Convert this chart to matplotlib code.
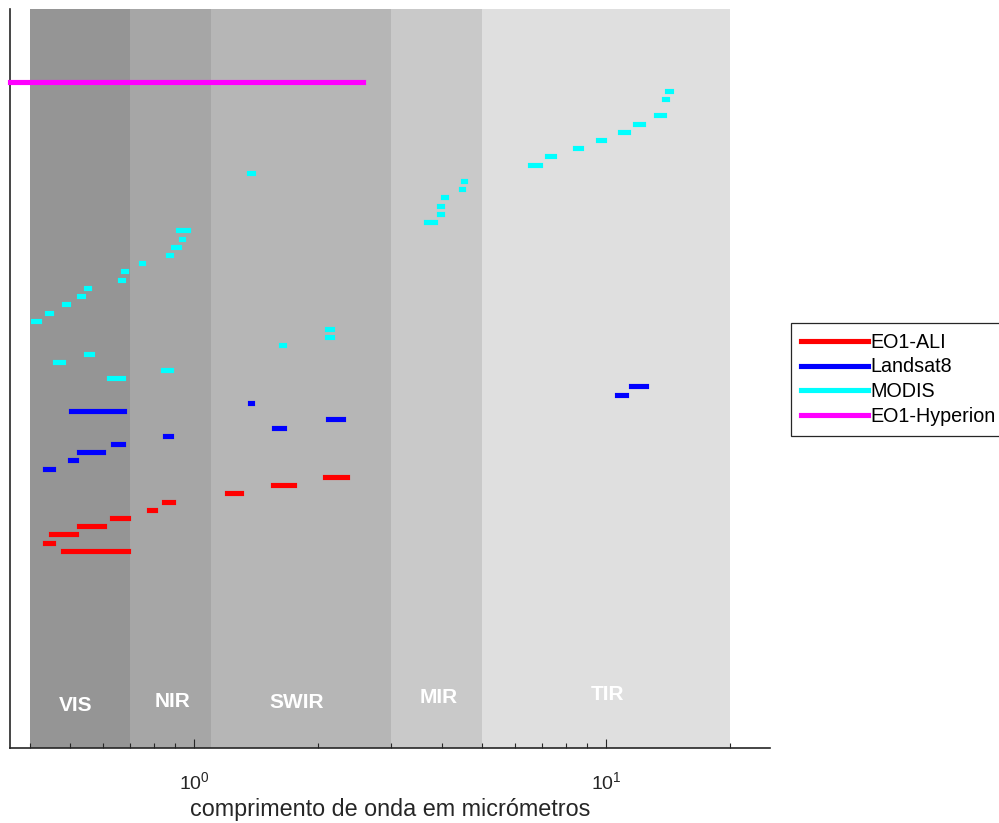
import numpy as np
import matplotlib
matplotlib.use("Agg")
import matplotlib.pyplot as plt
from matplotlib.ticker import LogLocator, FuncFormatter, NullFormatter

plt.rcParams['font.family'] = ['Liberation Sans', 'DejaVu Sans']

# spectral regions (micrometres) and their labels
region_edges = [0.4, 0.7, 1.1, 3.0, 5.0, 20.0]
region_names = ['VIS', 'NIR', 'SWIR', 'MIR', 'TIR']
region_colors = ['#959595', '#a6a6a6', '#b6b6b6', '#c9c9c9', '#dfdfdf']
label_x = [0.515, 0.885, 1.77, 3.93, 10.07]
label_y = [5.2, 5.6, 5.5, 6.1, 6.5]

# EO1-ALI bands (Pan, MS-1', MS-1, MS-2, MS-3, MS-4, MS-4', MS-5', MS-5, MS-7)
ali_lo = [0.48, 0.433, 0.45, 0.525, 0.63, 0.775, 0.845, 1.20, 1.55, 2.08]
ali_hi = [0.69, 0.453, 0.515, 0.605, 0.69, 0.805, 0.89, 1.30, 1.75, 2.35]
ali_row = list(range(24, 34))

# Landsat 8 OLI/TIRS bands 1-11
l8_lo = [0.433, 0.500, 0.525, 0.636, 0.851, 1.566, 2.107, 0.503, 1.363, 10.60, 11.50]
l8_hi = [0.453, 0.515, 0.600, 0.673, 0.879, 1.651, 2.294, 0.676, 1.384, 11.19, 12.51]
l8_row = list(range(34, 45))

# MODIS bands 1-36 (band 34 not drawn)
modis_lo = [0.620, 0.841, 0.459, 0.545, 1.628, 2.105, 2.105, 0.405, 0.438, 0.483,
            0.526, 0.546, 0.662, 0.673, 0.743, 0.862, 0.890, 0.931, 0.915, 3.660,
            3.929, 3.929, 4.020, 4.433, 4.482, 1.360, 6.535, 7.175, 8.400, 9.580,
            10.780, 11.770, 13.185, np.nan, 13.785, 14.085]
modis_hi = [0.670, 0.876, 0.479, 0.565, 1.652, 2.155, 2.155, 0.420, 0.448, 0.493,
            0.536, 0.556, 0.672, 0.683, 0.753, 0.877, 0.920, 0.941, 0.965, 3.840,
            3.989, 3.989, 4.080, 4.498, 4.549, 1.390, 6.895, 7.475, 8.700, 9.880,
            11.280, 12.270, 13.785, np.nan, 14.085, 14.385]
modis_row = list(range(45, 81))

# EO1-Hyperion continuous range
hyp_lo = [0.357]
hyp_hi = [2.576]
hyp_row = [81]

sensors = [
    ('EO1-ALI', ali_lo, ali_hi, ali_row, '#ff0000'),
    ('Landsat8', l8_lo, l8_hi, l8_row, '#0000ff'),
    ('MODIS', modis_lo, modis_hi, modis_row, '#00ffff'),
    ('EO1-Hyperion', hyp_lo, hyp_hi, hyp_row, '#ff00ff'),
]

axcol = '#262626'

fig = plt.figure(figsize=(9.99, 8.23), dpi=100)
ax = fig.add_axes([10/999, 75/823, 760/999, 739.5/823])

for i, name in enumerate(region_names):
    ax.axvspan(region_edges[i], region_edges[i+1], color=region_colors[i], lw=0, zorder=0)
    ax.text(label_x[i], label_y[i], name, color='white', fontsize=15,
            fontweight='bold', ha='center', va='center', zorder=1)

handles = []
for name, lo, hi, row, col in sensors:
    h = None
    for a, b, y in zip(lo, hi, row):
        if np.isnan(a):
            continue
        ln, = ax.plot([a, b], [y, y], color=col, lw=3.7,
                      solid_capstyle='projecting', zorder=3,
                      clip_on=(name != 'EO1-Hyperion'))
        if h is None:
            h = ln
    handles.append(h)

ax.set_xscale('log')
ax.set_xlim(0.357, 25)
ax.set_ylim(0, 90)

ax.xaxis.set_major_locator(LogLocator(base=10))
ax.xaxis.set_major_formatter(FuncFormatter(
    lambda v, p: r'$\mathregular{10^{%d}}$' % int(round(np.log10(v)))))
ax.xaxis.set_minor_locator(LogLocator(base=10, subs=np.arange(2, 10)))
ax.xaxis.set_minor_formatter(NullFormatter())
ax.tick_params(axis='x', which='major', direction='in', length=6.5, width=0.8,
               color=axcol, labelcolor=axcol, labelsize=14, pad=17)
ax.tick_params(axis='x', which='minor', direction='in', length=3.6, width=0.8,
               color=axcol)
ax.set_yticks([])

for s in ['top', 'right']:
    ax.spines[s].set_visible(False)
for s in ['left', 'bottom']:
    ax.spines[s].set_color(axcol)
    ax.spines[s].set_linewidth(1.2)
    ax.spines[s].set_zorder(2)

ax.set_xlabel('comprimento de onda em micrómetros', fontsize=16.8, color=axcol,
              labelpad=3)

leg = fig.legend(handles, [s[0] for s in sensors], loc='upper left',
                 bbox_to_anchor=(791/999, 1 - 322.7/823), borderaxespad=0,
                 fontsize=14.2, fancybox=False, framealpha=1,
                 edgecolor=axcol, handlelength=3.4, handletextpad=0.1,
                 labelspacing=0.3, borderpad=0.5)
leg.get_frame().set_linewidth(0.9)
for t in leg.get_texts():
    t.set_color('black')

fig.savefig('out.png', dpi=100)
